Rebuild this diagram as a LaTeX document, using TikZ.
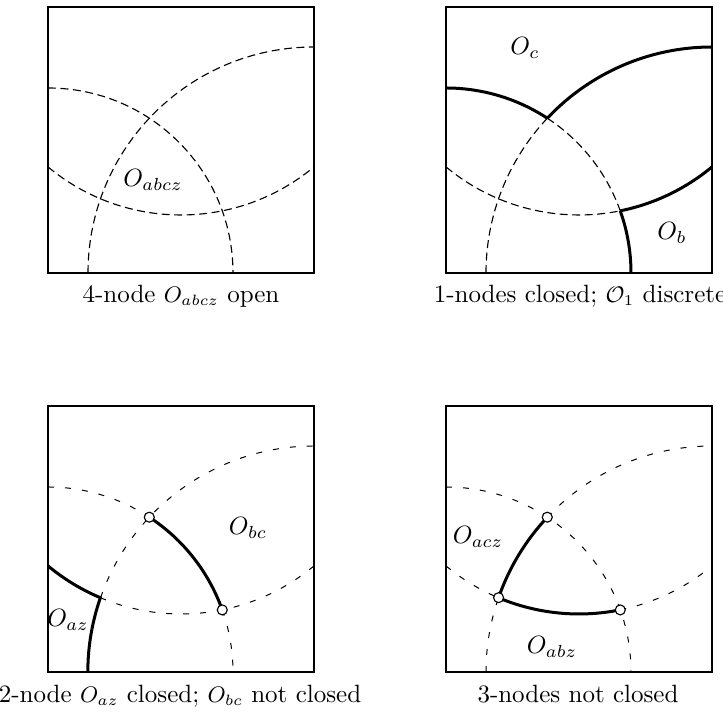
\documentclass[tikz,border=0pt]{standalone}
\usetikzlibrary{calc}
\newcommand{\capm}[1]{{\small$#1$}}
\begin{document}
\begin{tikzpicture}[x=0.4pt,y=0.4pt,
  frame/.style={line width=0.6pt},
  dsh/.style={line width=0.45pt, dash pattern=on 3.2pt off 1.8pt},
  dshw/.style={line width=0.4pt, dash pattern=on 2.4pt off 4.4pt},
  thk/.style={line width=1.2pt},
  vtx/.style={circle, draw, fill=white, inner sep=0pt, minimum size=4pt, line width=0.45pt},
  lbl/.style={inner sep=0pt},
  captxt/.style={anchor=base, inner sep=0pt}]
\useasboundingbox (0,0) rectangle (723,712);
% ---------- panel 1 ----------
\begin{scope}[shift={(48,439)}]
  \draw[dsh] (90:185) arc[start angle=90,end angle=0,radius=185];
  \draw[dsh] (266,0) ++(180:226) arc[start angle=180,end angle=90,radius=226];
  \draw[dsh] (133,266) ++(230.25:208) arc[start angle=230.25,end angle=309.75,radius=208];
  \draw[frame] (0,0) rectangle (266,266);
  \node[lbl] (l1) at (105,93) {$O_{abcz}$};
\end{scope}
\node[captxt] (c1) at (181,409) {4-node \capm{O_{abcz}} open};
% ---------- panel 2 ----------
\begin{scope}[shift={(446,439)}]
  \draw[dsh] (56.8:185) arc[start angle=56.8,end angle=19.6,radius=185];
  \draw[dsh] (266,0) ++(180:226) arc[start angle=180,end angle=136.8,radius=226];
  \draw[dsh] (133,266) ++(230.25:208) arc[start angle=230.25,end angle=281.45,radius=208];
  \draw[thk] (90:185) arc[start angle=90,end angle=56.8,radius=185];
  \draw[thk] (266,0) ++(136.8:226) arc[start angle=136.8,end angle=90,radius=226];
  \draw[thk] (133,266) ++(281.45:208) arc[start angle=281.45,end angle=309.75,radius=208];
  \draw[thk] (19.6:185) arc[start angle=19.6,end angle=0,radius=185];
  \draw[frame] (0,0) rectangle (266,266);
  \node[lbl] (l2a) at (79,225) {$O_c$};
  \node[lbl] (l2b) at (226,40) {$O_b$};
\end{scope}
\node[captxt] (c2) at (580,409) {1-nodes closed; \capm{\mathcal{O}_1} discrete};
% ---------- panel 3 ----------
\begin{scope}[shift={(48,40)}]
  \draw[dshw] (90:185) arc[start angle=90,end angle=56.8,radius=185];
  \draw[dshw] (19.6:185) arc[start angle=19.6,end angle=0,radius=185];
  \draw[dshw] (266,0) ++(160.8:226) arc[start angle=160.8,end angle=90,radius=226];
  \draw[dshw] (133,266) ++(247.2:208) arc[start angle=247.2,end angle=309.75,radius=208];
  \draw[thk] (56.8:185) arc[start angle=56.8,end angle=19.6,radius=185];
  \draw[thk] (133,266) ++(230.25:208) arc[start angle=230.25,end angle=247.2,radius=208]
     arc[start angle=160.8,end angle=180,radius=226];
  \draw[frame] (0,0) rectangle (266,266);
  \node[vtx] (v3ab) at (56.8:185) {};
  \node[vtx] (v3ac) at (19.6:185) {};
  \node[lbl] (l3a) at (200,144) {$O_{bc}$};
  \node[lbl] (l3b) at (20,52) {$O_{az}$};
\end{scope}
\node[captxt] (c3) at (180,9) {2-node \capm{O_{az}} closed; \capm{O_{bc}} not closed};
% ---------- panel 4 ----------
\begin{scope}[shift={(446,40)}]
  \draw[dshw] (90:185) arc[start angle=90,end angle=0,radius=185];
  \draw[dshw] (266,0) ++(180:226) arc[start angle=180,end angle=160.8,radius=226];
  \draw[dshw] (266,0) ++(136.8:226) arc[start angle=136.8,end angle=90,radius=226];
  \draw[dshw] (133,266) ++(230.25:208) arc[start angle=230.25,end angle=247.2,radius=208];
  \draw[dshw] (133,266) ++(281.45:208) arc[start angle=281.45,end angle=309.75,radius=208];
  \draw[thk] (266,0) ++(160.8:226) arc[start angle=160.8,end angle=136.8,radius=226];
  \draw[thk] (133,266) ++(247.2:208) arc[start angle=247.2,end angle=281.45,radius=208];
  \draw[frame] (0,0) rectangle (266,266);
  \node[vtx] (v4ab) at (56.8:185) {};
  \node[vtx] (v4ac) at (19.6:185) {};
  \node[vtx] (v4bc) at ($(266,0)+(160.8:226)$) {};
  \node[lbl] (l4a) at (32,135) {$O_{acz}$};
  \node[lbl] (l4b) at (106,25) {$O_{abz}$};
\end{scope}
\node[captxt] (c4) at (578,9) {3-nodes not closed};
\end{tikzpicture}
\end{document}
